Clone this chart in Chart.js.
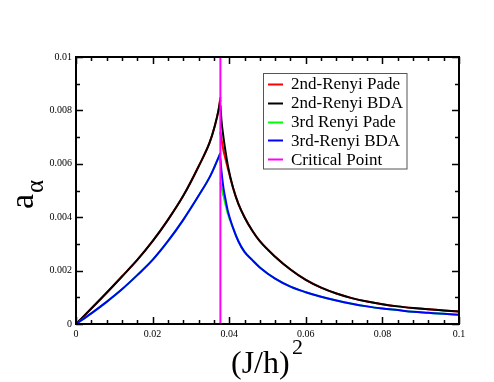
<!DOCTYPE html>
<html>
<head>
<meta charset="utf-8">
<script src="https://cdn.jsdelivr.net/npm/chart.js@4"></script>
<style>
  body { margin: 0; background: #fff; }
  #wrap { width: 494px; height: 382px; }
</style>
</head>
<body>
<div id="wrap"><canvas id="chart" width="494" height="382"></canvas></div>
<script>
// critical point (J/h)^2
var xCrit = 0.0377;

// below the critical point
var xLeft = [0, 0.004, 0.008, 0.012, 0.016, 0.02, 0.024, 0.028, 0.032, 0.0349, 0.0362, 0.0372, 0.0377];
var renyi2PadeLeft = [0, 0.00058, 0.00117, 0.00178, 0.0024, 0.0031, 0.0039, 0.0048, 0.0059, 0.0068, 0.0074, 0.0080, 0.0085];
var renyi2BdaLeft  = [0, 0.00058, 0.00117, 0.00178, 0.0024, 0.0031, 0.0039, 0.0048, 0.0059, 0.0068, 0.0074, 0.0080, 0.0084];
var renyi3PadeLeft = [0, 0.0004, 0.00083, 0.0013, 0.00183, 0.0024, 0.0031, 0.0039, 0.0048, 0.0055, 0.0059, 0.00623, 0.0064];
var renyi3BdaLeft  = [0, 0.0004, 0.00083, 0.0013, 0.00183, 0.0024, 0.0031, 0.0039, 0.0048, 0.0055, 0.0059, 0.00623, 0.0064];

// above the critical point
var xRight = [0.0377, 0.038, 0.0385, 0.039, 0.0397, 0.041, 0.0424, 0.044, 0.046, 0.048, 0.052, 0.056, 0.06, 0.064, 0.068, 0.072, 0.076, 0.08, 0.084, 0.088, 0.092, 0.096, 0.1];
var renyi2PadeRight = [0.0072, 0.0069, 0.0065, 0.0062, 0.0058, 0.0051, 0.0045, 0.0040, 0.0035, 0.0031, 0.00252, 0.00204, 0.00165, 0.00136, 0.00114, 0.00097, 0.00084, 0.00074, 0.00066, 0.0006, 0.00055, 0.00051, 0.00047];
var renyi2BdaRight  = [0.0082, 0.0076, 0.0070, 0.0065, 0.0059, 0.0051, 0.0045, 0.0040, 0.0035, 0.0031, 0.00252, 0.00204, 0.00165, 0.00136, 0.00114, 0.00097, 0.00084, 0.00074, 0.00066, 0.0006, 0.00055, 0.00051, 0.00047];
var renyi3PadeRight = [0.0053, 0.0051, 0.0048, 0.0045, 0.0041, 0.0036, 0.0031, 0.0027, 0.0024, 0.00212, 0.0017, 0.0014, 0.00119, 0.00102, 0.00088, 0.00076, 0.00066, 0.00058, 0.00052, 0.00046, 0.00042, 0.00038, 0.00035];
var renyi3BdaRight  = [0.0062, 0.0057, 0.0051, 0.0047, 0.0042, 0.0036, 0.0031, 0.0027, 0.0024, 0.00212, 0.0017, 0.0014, 0.00119, 0.00102, 0.00088, 0.00076, 0.00066, 0.00058, 0.00052, 0.00046, 0.00042, 0.00038, 0.00035];

var legendLabels = ["2nd-Renyi Pade", "2nd-Renyi BDA", "3rd Renyi Pade", "3rd-Renyi BDA", "Critical Point"];
var legendColors = ["#ff0000", "#000000", "#00ff00", "#0000ff", "#ff00ff"];

var xTickStep = 0.02, xMinorStep = 0.004;
var yTickStep = 0.002, yMinorStep = 0.001;

function pts(xs, ys) {
    return xs.map(function(x, i) { return {x: x, y: ys[i]}; });
}

function curve(xs, ys, color, order) {
    return {
        data: pts(xs, ys),
        borderColor: color,
        borderWidth: 2,
        pointRadius: 0,
        fill: false,
        cubicInterpolationMode: "monotone",
        order: order
    };
}

// inward ticks on all four sides, frame, axis titles and legend
var decor = {
    id: "decor",
    afterDatasetsDraw: function(chart) {
        var ctx = chart.ctx;
        var a = chart.chartArea;
        var xs = chart.scales.x, ys = chart.scales.y;
        ctx.save();
        ctx.strokeStyle = "#000";
        ctx.lineWidth = 1.5;
        ctx.beginPath();
        var i, p, len;
        for (i = 0; i * xMinorStep <= 0.1 + 1e-9; i++) {
            p = Math.round(xs.getPixelForValue(i * xMinorStep)) + 0.5;
            len = (i % 5 === 0) ? 7 : 4;
            ctx.moveTo(p, a.bottom); ctx.lineTo(p, a.bottom - len);
            ctx.moveTo(p, a.top); ctx.lineTo(p, a.top + len);
        }
        for (i = 0; i * yMinorStep <= 0.01 + 1e-9; i++) {
            p = Math.round(ys.getPixelForValue(i * yMinorStep)) + 0.5;
            len = (i % 2 === 0) ? 7 : 4;
            ctx.moveTo(a.left, p); ctx.lineTo(a.left + len, p);
            ctx.moveTo(a.right, p); ctx.lineTo(a.right - len, p);
        }
        ctx.stroke();
        ctx.lineWidth = 2;
        ctx.strokeRect(a.left, a.top, a.right - a.left, a.bottom - a.top);

        // legend
        ctx.fillStyle = "#fff";
        ctx.fillRect(263.5, 73.5, 143.5, 95.5);
        ctx.strokeStyle = "#555";
        ctx.lineWidth = 1;
        ctx.strokeRect(263.5, 73.5, 143.5, 95.5);
        ctx.font = "17px 'Liberation Serif', serif";
        ctx.textBaseline = "middle";
        ctx.textAlign = "left";
        legendLabels.forEach(function(lbl, k) {
            var y = 84 + k * 18.8;
            ctx.strokeStyle = legendColors[k];
            ctx.lineWidth = 2;
            ctx.beginPath();
            ctx.moveTo(268, Math.round(y) + 0.5); ctx.lineTo(283, Math.round(y) + 0.5);
            ctx.stroke();
            ctx.fillStyle = "#000";
            ctx.fillText(lbl, 291, y + 1);
        });

        // x title (J/h)^2
        ctx.fillStyle = "#000";
        ctx.textBaseline = "alphabetic";
        ctx.font = "32px 'Liberation Serif', serif";
        ctx.fillText("(J/h)", 231, 373);
        ctx.font = "22px 'Liberation Serif', serif";
        ctx.fillText("2", 292, 354);

        // y title a_alpha
        ctx.translate(33, 209);
        ctx.rotate(-Math.PI / 2);
        ctx.font = "34px 'Liberation Serif', serif";
        ctx.fillText("a", 0, 0);
        ctx.font = "25px 'Liberation Serif', serif";
        ctx.fillText("\u03b1", 16, 10);
        ctx.restore();
    }
};

var tickFont = { family: "'Liberation Serif', serif", size: 10 };

new Chart(document.getElementById("chart").getContext("2d"), {
    type: "line",
    data: {
        datasets: [
            curve(xLeft, renyi2PadeLeft, legendColors[0], 5),
            curve(xRight, renyi2PadeRight, legendColors[0], 5),
            curve(xLeft, renyi2BdaLeft, legendColors[1], 4),
            curve(xRight, renyi2BdaRight, legendColors[1], 4),
            curve(xLeft, renyi3PadeLeft, legendColors[2], 3),
            curve(xRight, renyi3PadeRight, legendColors[2], 3),
            curve(xLeft, renyi3BdaLeft, legendColors[3], 2),
            curve(xRight, renyi3BdaRight, legendColors[3], 2),
            {
                data: [{x: xCrit, y: 0}, {x: xCrit, y: 0.01}],
                borderColor: legendColors[4],
                borderWidth: 2,
                pointRadius: 0,
                order: 1
            }
        ]
    },
    options: {
        responsive: false,
        animation: false,
        layout: { padding: { top: 57, right: 35, left: 0, bottom: 0 } },
        plugins: { legend: { display: false }, tooltip: { enabled: false } },
        scales: {
            x: {
                type: "linear",
                min: 0, max: 0.1,
                grid: { display: false, drawTicks: false },
                border: { display: false },
                ticks: {
                    stepSize: xTickStep,
                    padding: 4,
                    color: "#000",
                    font: tickFont,
                    maxRotation: 0,
                    callback: function(v) { return String(Number(v.toFixed(3))); }
                },
                afterFit: function(s) { s.height = 58; }
            },
            y: {
                type: "linear",
                min: 0, max: 0.01,
                grid: { display: false, drawTicks: false },
                border: { display: false },
                ticks: {
                    stepSize: yTickStep,
                    padding: 4,
                    color: "#000",
                    font: tickFont,
                    callback: function(v) { return String(Number(v.toFixed(4))); }
                },
                afterFit: function(s) { s.width = 76; }
            }
        }
    },
    plugins: [decor]
});
</script>
</body>
</html>
